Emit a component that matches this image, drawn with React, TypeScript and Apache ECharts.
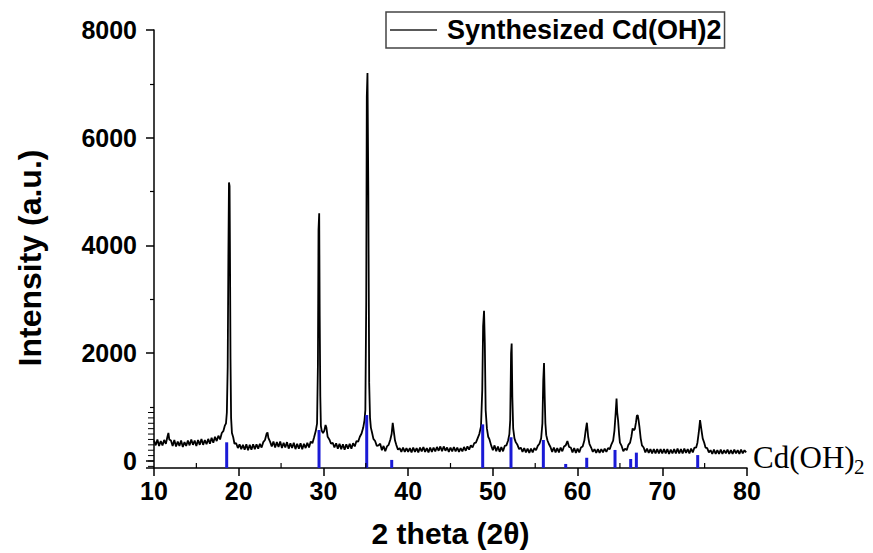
import React, { useEffect, useRef } from "react";
import * as echarts from "echarts";

const seriesName = "Synthesized Cd(OH)2";
const xTitle = "2 theta (2θ)";
const yTitle = "Intensity (a.u.)";
const phaseLabel = "Cd(OH)";
const phaseSub = "2";

const yMin = -130;
const yMax = 8000;
const xMin = 10;
const xMax = 80;

// measured XRD pattern, [2θ, intensity]
const seg10to20: number[][] = [
  [10.0, 380], [10.2, 290], [10.4, 400], [10.6, 280], [10.8, 370], [11.0, 290], [11.2, 390], [11.4, 320],
  [11.6, 460], [11.7, 520], [11.8, 400], [12.0, 380], [12.2, 280], [12.4, 390], [12.6, 270], [12.8, 360],
  [13.0, 280], [13.2, 380], [13.4, 260], [13.6, 350], [13.8, 280], [14.0, 380], [14.2, 290], [14.4, 400],
  [14.6, 300], [14.8, 380], [15.0, 280], [15.2, 390], [15.4, 300], [15.6, 410], [15.8, 300], [16.0, 390],
  [16.2, 310], [16.4, 410], [16.6, 320], [16.8, 430], [17.0, 340], [17.2, 450], [17.4, 370], [17.6, 470],
  [17.8, 400], [18.0, 520], [18.2, 560], [18.35, 650], [18.5, 700], [18.6, 900], [18.7, 1750], [18.78, 3800],
  [18.85, 5170], [18.92, 5100], [18.97, 3800], [19.03, 1900], [19.1, 800], [19.2, 520], [19.35, 440],
  [19.5, 320], [19.7, 330], [19.9, 240],
];
const seg20to30: number[][] = [
  [20.1, 310], [20.3, 220], [20.5, 300], [20.7, 210], [20.9, 310], [21.1, 200], [21.3, 300], [21.5, 210],
  [21.7, 310], [21.9, 220], [22.1, 310], [22.3, 230], [22.5, 320], [22.7, 250], [22.9, 350], [23.1, 390],
  [23.3, 510], [23.4, 530], [23.5, 430], [23.7, 360], [23.9, 270], [24.1, 360], [24.3, 250], [24.5, 350],
  [24.7, 260], [24.9, 360], [25.1, 240], [25.3, 340], [25.5, 250], [25.7, 350], [25.9, 230], [26.1, 330],
  [26.3, 240], [26.5, 340], [26.7, 220], [26.9, 320], [27.1, 230], [27.3, 330], [27.5, 220], [27.7, 320],
  [27.9, 240], [28.1, 340], [28.3, 250], [28.5, 360], [28.7, 330], [28.9, 440], [29.1, 560], [29.25, 700],
  [29.35, 1800], [29.42, 4290], [29.5, 4600], [29.56, 2700], [29.63, 1200], [29.7, 650], [29.8, 560],
  [29.95, 520],
];
const seg30to40: number[][] = [
  [30.1, 560], [30.25, 670], [30.35, 620], [30.5, 450], [30.7, 400], [30.9, 320], [31.1, 340], [31.3, 250],
  [31.5, 330], [31.7, 230], [31.9, 320], [32.1, 220], [32.3, 310], [32.5, 210], [32.7, 310], [32.9, 230],
  [33.1, 320], [33.3, 230], [33.5, 330], [33.7, 270], [33.9, 370], [34.1, 360], [34.3, 450], [34.5, 510],
  [34.7, 620], [34.85, 760], [34.95, 950], [35.05, 2930], [35.12, 6760], [35.2, 7200], [35.3, 4970],
  [35.4, 1450], [35.5, 800], [35.6, 620], [35.75, 520], [35.9, 410], [36.1, 370], [36.3, 280], [36.5, 290],
  [36.7, 320], [36.9, 200], [37.1, 280], [37.3, 180], [37.5, 270], [37.7, 300], [37.9, 400], [38.05, 500],
  [38.18, 710], [38.3, 560], [38.45, 380], [38.6, 300], [38.8, 210], [39.0, 240], [39.2, 170], [39.4, 250],
  [39.6, 170], [39.8, 240],
];
const seg40to50: number[][] = [
  [40.0, 170], [40.2, 240], [40.4, 160], [40.6, 250], [40.8, 170], [41.0, 240], [41.2, 160], [41.4, 250],
  [41.6, 180], [41.8, 260], [42.0, 170], [42.2, 240], [42.4, 160], [42.6, 250], [42.8, 170], [43.0, 250],
  [43.2, 180], [43.4, 260], [43.6, 190], [43.8, 270], [44.0, 180], [44.2, 270], [44.4, 190], [44.6, 250],
  [44.8, 170], [45.0, 250], [45.2, 180], [45.4, 260], [45.6, 180], [45.8, 250], [46.0, 170], [46.2, 240],
  [46.4, 180], [46.6, 260], [46.8, 190], [47.0, 270], [47.2, 210], [47.4, 290], [47.6, 250], [47.8, 330],
  [48.0, 340], [48.2, 420], [48.4, 500], [48.6, 640], [48.75, 1320], [48.85, 2500], [48.96, 2790],
  [49.05, 2190], [49.15, 945], [49.3, 600], [49.45, 450], [49.6, 400], [49.8, 290],
];
const seg50to60: number[][] = [
  [50.0, 200], [50.2, 290], [50.4, 180], [50.6, 270], [50.8, 170], [51.0, 260], [51.2, 180], [51.4, 280],
  [51.6, 290], [51.8, 380], [51.95, 500], [52.05, 760], [52.15, 2000], [52.22, 2180], [52.3, 1190],
  [52.4, 600], [52.55, 420], [52.7, 350], [52.9, 300], [53.1, 220], [53.3, 250], [53.5, 170], [53.7, 240],
  [53.9, 160], [54.1, 230], [54.3, 150], [54.5, 230], [54.7, 160], [54.9, 240], [55.1, 200], [55.3, 280],
  [55.5, 320], [55.7, 420], [55.85, 700], [55.95, 1500], [56.04, 1820], [56.12, 1190], [56.2, 700],
  [56.3, 480], [56.45, 380], [56.6, 320], [56.8, 260], [57.0, 170], [57.2, 250], [57.4, 160], [57.6, 240],
  [57.8, 160], [58.0, 250], [58.2, 180], [58.4, 270], [58.6, 290], [58.8, 370], [59.0, 260], [59.2, 250],
  [59.4, 160], [59.6, 240], [59.8, 150],
];
const seg60to70: number[][] = [
  [60.0, 230], [60.2, 160], [60.4, 250], [60.6, 270], [60.8, 380], [60.95, 560], [61.1, 710], [61.25, 450],
  [61.4, 320], [61.6, 250], [61.8, 170], [62.0, 220], [62.2, 150], [62.4, 220], [62.6, 150], [62.8, 220],
  [63.0, 160], [63.2, 230], [63.4, 170], [63.6, 240], [63.8, 220], [64.0, 310], [64.2, 380], [64.35, 560],
  [64.5, 900], [64.6, 1160], [64.68, 900], [64.78, 760], [64.9, 500], [65.0, 340], [65.2, 280], [65.4, 180],
  [65.6, 230], [65.8, 200], [66.0, 300], [66.2, 340], [66.35, 450], [66.5, 605], [66.65, 570], [66.77, 600],
  [66.9, 720], [67.0, 840], [67.1, 850], [67.2, 760], [67.3, 640], [67.45, 420], [67.6, 290], [67.8, 250],
  [68.0, 160], [68.2, 230], [68.4, 150], [68.6, 220], [68.8, 140], [69.0, 220], [69.2, 140], [69.4, 220],
  [69.6, 140], [69.8, 220],
];
const seg70to80: number[][] = [
  [70.0, 140], [70.2, 220], [70.4, 140], [70.6, 220], [70.8, 130], [71.0, 210], [71.2, 140], [71.4, 220],
  [71.6, 140], [71.8, 230], [72.0, 140], [72.2, 220], [72.4, 140], [72.6, 230], [72.8, 150], [73.0, 220],
  [73.2, 140], [73.4, 230], [73.6, 160], [73.8, 250], [74.0, 250], [74.15, 340], [74.3, 520], [74.46, 760],
  [74.6, 600], [74.77, 420], [74.95, 340], [75.1, 250], [75.3, 240], [75.5, 160], [75.7, 200], [75.9, 130],
  [76.1, 210], [76.3, 130], [76.5, 200], [76.7, 130], [76.9, 210], [77.1, 130], [77.3, 200], [77.5, 140],
  [77.7, 210], [77.9, 130], [78.1, 200], [78.3, 130], [78.5, 210], [78.7, 140], [78.9, 200], [79.1, 130],
  [79.3, 210], [79.5, 140], [79.7, 200], [79.9, 160],
];

// reference pattern (stick lines)
const refAngle = [18.58, 29.48, 35.11, 38.06, 48.8, 52.14, 55.96, 58.6, 61.08, 64.42, 66.27, 66.94, 74.18];
const refIntensity = [347, 575, 853, 20, 680, 440, 390, -55, 60, 205, 37, 155, 110];

// fine tick marks on the lower part of the intensity axis
const fineYTicks = [-100, 0, 100, 200, 300, 400, 500, 600, 700, 800, 900];
// minor ticks of the 2θ axis
const minorXTicks = [15, 25, 35, 45, 55, 65, 75];

const sansFont = "'Liberation Sans', Arial, sans-serif";
const serifFont = "'Liberation Serif', 'Times New Roman', serif";

export default function App() {
  const ref = useRef<HTMLDivElement>(null);

  useEffect(() => {
    if (!ref.current) return;
    const chart = echarts.init(ref.current, null, { renderer: "svg" });
    const pattern = [
      ...seg10to20, ...seg20to30, ...seg30to40, ...seg40to50, ...seg50to60, ...seg60to70, ...seg70to80,
    ];
    const sticks = refAngle.map((a, i) => [a, refIntensity[i]]);

    chart.setOption({
      animation: false,
      backgroundColor: "#fff",
      grid: {
        left: 154,
        right: 126,
        top: 30,
        bottom: 85,
        containLabel: false,
        outerBoundsMode: "none",
      },
      legend: {
        show: true,
        data: [{ name: seriesName, icon: "rect" }],
        left: 386,
        top: 12,
        selectedMode: false,
        itemWidth: 47,
        itemHeight: 1.5,
        padding: [3, 3, 3, 4],
        borderColor: "#444",
        borderWidth: 1.5,
        itemStyle: { color: "#222" },
        textStyle: {
          fontFamily: sansFont,
          fontSize: 27,
          fontWeight: "bold",
          color: "#000",
          lineHeight: 30,
          padding: [0, 0, 0, 5],
        },
      },
      xAxis: {
        type: "value",
        min: xMin,
        max: xMax,
        interval: 10,
        name: xTitle,
        nameLocation: "middle",
        nameGap: 50,
        nameTextStyle: { fontFamily: sansFont, fontSize: 30, fontWeight: "bold", color: "#000" },
        axisLine: { show: true, onZero: false, lineStyle: { color: "#000", width: 1.5 } },
        axisTick: { show: true, inside: false, length: 8, lineStyle: { color: "#000", width: 1.5 } },
        axisLabel: { fontFamily: sansFont, fontSize: 25, fontWeight: "bold", color: "#000", margin: 10 },
        splitLine: { show: false },
      },
      yAxis: {
        type: "value",
        min: yMin,
        max: yMax,
        splitNumber: 4,
        axisLine: { show: true, onZero: false, lineStyle: { color: "#000", width: 1.5 } },
        axisTick: { show: true, inside: false, length: 8, lineStyle: { color: "#000", width: 1.5 } },
        minorTick: { show: true, splitNumber: 2, length: 4, lineStyle: { color: "#000", width: 1.2 } },
        axisLabel: {
          fontFamily: sansFont,
          fontSize: 25,
          fontWeight: "bold",
          color: "#000",
          margin: 17,
          formatter: (v: number) => (v < 0 ? "" : String(v)),
        },
        splitLine: { show: false },
      },
      graphic: [
        {
          type: "text",
          x: 30,
          y: 258,
          rotation: Math.PI / 2,
          style: {
            text: yTitle,
            fontFamily: sansFont,
            fontSize: 32,
            fontWeight: "bold",
            fill: "#000",
            align: "center",
            verticalAlign: "middle",
          },
        },
        {
          type: "text",
          x: 753,
          y: 457,
          style: {
            text: phaseLabel,
            fontFamily: serifFont,
            fontSize: 31,
            fill: "#000",
            align: "left",
            verticalAlign: "middle",
          },
        },
        {
          type: "text",
          x: 854,
          y: 467,
          style: {
            text: phaseSub,
            fontFamily: serifFont,
            fontSize: 21,
            fill: "#000",
            align: "left",
            verticalAlign: "middle",
          },
        },
      ],
      series: [
        {
          name: seriesName,
          type: "line",
          data: pattern,
          symbol: "none",
          showSymbol: false,
          lineStyle: { color: "#000", width: 1.8 },
          itemStyle: { color: "#000" },
          z: 2,
        },
        {
          type: "custom",
          name: "reference",
          data: sticks,
          clip: false,
          z: 3,
          renderItem: (params: any, api: any) => {
            const x = api.value(0);
            const h = api.value(1);
            const top = api.coord([x, h]);
            const base = api.coord([x, yMin]);
            return {
              type: "rect",
              shape: { x: top[0] - 1.5, y: top[1], width: 3, height: base[1] - top[1] },
              style: { fill: "#1a1ad6" },
            };
          },
        },
        {
          type: "custom",
          name: "fineTicks",
          data: fineYTicks.map((v) => [xMin, v]),
          clip: false,
          silent: true,
          z: 4,
          renderItem: (params: any, api: any) => {
            const p = api.coord([api.value(0), api.value(1)]);
            return {
              type: "line",
              shape: { x1: p[0] - 6, y1: p[1], x2: p[0], y2: p[1] },
              style: { stroke: "#000", lineWidth: 1 },
            };
          },
        },
        {
          type: "custom",
          name: "minorX",
          data: minorXTicks.map((v) => [v, yMin]),
          clip: false,
          silent: true,
          z: 4,
          renderItem: (params: any, api: any) => {
            const p = api.coord([api.value(0), api.value(1)]);
            return {
              type: "line",
              shape: { x1: p[0], y1: p[1], x2: p[0], y2: p[1] - 5 },
              style: { stroke: "#000", lineWidth: 1.2 },
            };
          },
        },
      ],
    });

    return () => {
      chart.dispose();
    };
  }, []);

  return <div ref={ref} style={{ position: "fixed", left: 0, top: 0, width: 873, height: 553 }} />;
}
